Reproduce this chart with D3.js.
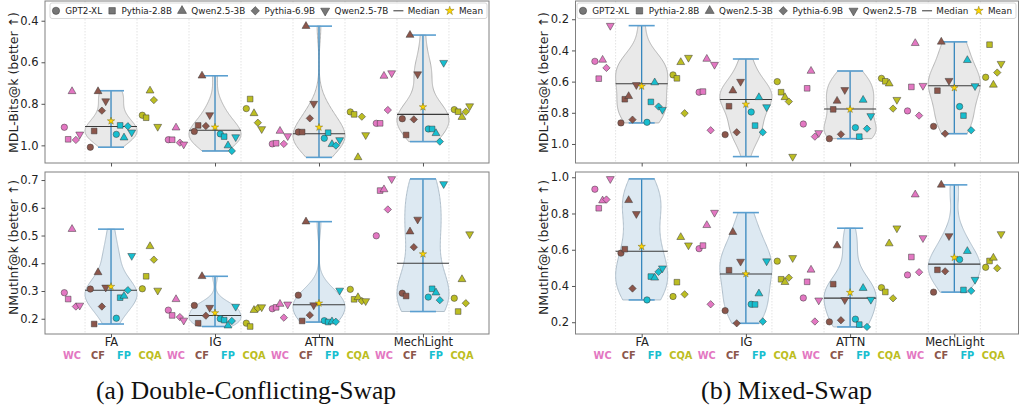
<!DOCTYPE html>
<html><head><meta charset="utf-8">
<script src="https://cdn.jsdelivr.net/npm/d3@7"></script>
<style>
body{margin:0;background:#fff}
svg{display:block}
text{font-family:"DejaVu Sans",sans-serif}
</style>
</head><body>
<svg id="c" width="1019" height="410"></svg>
<script>
// ---------- data ----------
const methods = ["FA", "IG", "ATTN", "MechLight"];
const datasets = ["WC", "CF", "FP", "CQA"];
const models = ["GPT2-XL", "Pythia-2.8B", "Qwen2.5-3B", "Pythia-6.9B", "Qwen2.5-7B"];
const captions = ["(a) Double-Conflicting-Swap", "(b) Mixed-Swap"];
const yLabels = ["MDL-Bits@k (better \u2191)", "NMutInf@k (better \u2191)"];
const mdlTicksDCS = [0.4, 0.6, 0.8, 1.0];
const nmiTicksDCS = [0.2, 0.3, 0.4, 0.5, 0.6, 0.7];
const mdlTicksMix = [0.2, 0.4, 0.6, 0.8, 1.0];
const nmiTicksMix = [0.2, 0.4, 0.6, 0.8, 1.0];

// values: [method][dataset][model]
const dcsMdl = [
  [[0.913,0.971,0.740,0.974,0.947],[1.009,0.931,0.740,0.833,0.787],[0.947,0.904,0.963,0.908,0.937],[0.855,0.867,0.737,0.782,0.910]],
  [[0.973,0.973,0.915,0.987,0.995],[0.933,0.904,0.665,0.907,0.854],[0.945,0.958,1.001,1.027,0.960],[0.823,0.777,0.846,0.891,0.921]],
  [[0.993,0.990,0.931,0.993,0.955],[0.936,0.936,0.426,0.870,0.799],[0.966,0.939,0.995,1.001,0.974],[0.839,0.851,1.058,0.862,0.950]],
  [[0.894,0.894,0.666,0.830,0.652],[0.872,0.950,0.469,0.875,0.657],[0.921,0.921,0.942,0.982,0.602],[0.828,0.838,0.864,0.838,0.811]]
];
const dcsNmi = [
  [[0.294,0.271,0.523,0.244,0.248],[0.307,0.181,0.367,0.244,0.313],[0.202,0.276,0.282,0.303,0.427],[0.308,0.353,0.461,0.413,0.302]],
  [[0.231,0.212,0.270,0.206,0.194],[0.248,0.184,0.353,0.211,0.240],[0.200,0.195,0.175,0.192,0.244],[0.184,0.172,0.231,0.238,0.242]],
  [[0.236,0.241,0.253,0.204,0.252],[0.285,0.192,0.550,0.213,0.249],[0.193,0.188,0.190,0.189,0.302],[0.306,0.270,0.277,0.264,0.264]],
  [[0.499,0.662,0.666,0.594,0.704],[0.292,0.282,0.514,0.458,0.558],[0.278,0.308,0.294,0.267,0.686],[0.274,0.226,0.342,0.256,0.505]]
];
const mixMdl = [
  [[0.470,0.581,0.461,0.512,0.241],[0.865,0.713,0.694,0.844,0.621],[0.861,0.730,0.606,0.760,0.780],[0.557,0.579,0.476,0.803,0.446]],
  [[0.668,0.664,0.455,0.912,0.491],[0.940,0.758,0.658,0.925,0.600],[0.795,0.882,0.701,0.925,0.763],[0.600,0.668,0.701,0.728,1.081]],
  [[0.872,0.643,0.532,0.953,0.929],[0.966,0.778,0.724,0.938,0.653],[0.895,0.953,0.718,0.902,0.820],[0.579,0.598,0.613,0.773,0.716]],
  [[0.788,0.634,0.354,0.818,0.626],[0.887,0.658,0.345,0.934,0.594],[0.760,0.818,0.463,0.912,0.628],[0.572,0.363,0.621,0.542,0.485]]
];
const mixNmi = [
  [[0.934,0.829,0.871,0.877,0.991],[0.581,0.603,0.873,0.386,0.798],[0.323,0.452,0.445,0.478,0.498],[0.342,0.421,0.669,0.354,0.625]],
  [[0.606,0.623,0.735,0.299,0.805],[0.264,0.487,0.697,0.194,0.535],[0.299,0.298,0.358,0.204,0.537],[0.537,0.437,0.421,0.446,0.555]],
  [[0.334,0.423,0.489,0.204,0.321],[0.202,0.410,0.623,0.211,0.323],[0.217,0.187,0.388,0.174,0.325],[0.391,0.367,0.634,0.332,0.719]],
  [[0.461,0.560,0.904,0.476,0.665],[0.366,0.489,0.958,0.481,0.676],[0.546,0.378,0.592,0.373,0.435],[0.503,0.538,0.555,0.498,0.687]]
];

// ---------- styles / layout ----------
const datasetColors = ["#e377c2", "#8c564b", "#17becf", "#bcbd22"];
const datasetOffsets = [-0.375, -0.125, 0.125, 0.375];
const modelOffsets = [-0.074, -0.037, 0, 0.037, 0.074];
const symbolDefs = [
  {type: d3.symbolCircle, size: 32, rot: 0},
  {type: d3.symbolSquare, size: 32, rot: 0},
  {type: d3.symbolTriangle, size: 27, rot: 0},
  {type: d3.symbolSquare, size: 27, rot: 45},
  {type: d3.symbolTriangle, size: 27, rot: 180}
];

const svg = d3.select("#c");

const panels = [
  {xr:[45,489], xd:[-0.635,3.635], top:{data:dcsMdl, yd:[0.305,1.085], ticks:mdlTicksDCS}, bot:{data:dcsNmi, yd:[0.145,0.729], ticks:nmiTicksDCS},
   ylabX:13.5, legX:50, legW:437, caption:captions[0], capX:246, capW:300},
  {xr:[575.5,1018.5], xd:[-0.635,3.616], top:{data:mixMdl, yd:[0.083,1.122], ticks:mdlTicksMix}, bot:{data:mixNmi, yd:[0.135,1.029], ticks:nmiTicksMix},
   ylabX:543, legX:577, legW:439, caption:captions[1], capX:786.5, capW:171}
];
const rows = [
  {key:"top", y0:1, y1:163, fill:"#e9e9e9", edge:"#b5b5b5", labelY:82.5, label:yLabels[0], inverted:true},
  {key:"bot", y0:172, y1:334, fill:"#dde9f2", edge:"#b0bfcb", labelY:247.5, label:yLabels[1], inverted:false}
];

function kde(vals, grid) {
  const n = vals.length;
  const sd = d3.deviation(vals);
  const bw = sd * Math.pow(n, -1/5);
  return grid.map(g => d3.sum(vals, v => Math.exp(-0.5 * ((g - v)/bw) ** 2)) / (n * bw * Math.sqrt(2*Math.PI)));
}

function symPath(i, scale) {
  return d3.symbol().type(symbolDefs[i].type).size(symbolDefs[i].size * (scale || 1))();
}

panels.forEach(p => {
  const x = d3.scaleLinear().domain(p.xd).range(p.xr);
  const pxPerUnit = x(1) - x(0);
  rows.forEach(r => {
    const cfg = p[r.key];
    const y = d3.scaleLinear().domain(cfg.yd).range(r.inverted ? [r.y0, r.y1] : [r.y1, r.y0]);
    const g = svg.append("g");

    // gridlines (dotted) at half-way positions
    const gridPos = d3.range(-0.25, 3.5, 0.5);
    g.selectAll("line.grid").data(gridPos).join("line")
      .attr("x1", d => x(d)).attr("x2", d => x(d))
      .attr("y1", r.y0).attr("y2", r.y1)
      .attr("stroke", "#dcdcdc").attr("stroke-width", 0.8).attr("stroke-dasharray", "1.5,1.5");

    // violins
    methods.forEach((m, mi) => {
      const vals = cfg.data[mi].flat();
      const lo = d3.min(vals), hi = d3.max(vals);
      const grid = d3.range(100).map(i => lo + (hi - lo) * i / 99);
      const dens = kde(vals, grid);
      const maxD = d3.max(dens);
      const hw = dens.map(d => d / maxD * 0.25 * pxPerUnit);
      const cx = x(mi);
      const area = d3.area()
        .x0((d, i) => cx - hw[i]).x1((d, i) => cx + hw[i])
        .y(d => y(d)).curve(d3.curveLinear);
      g.append("path").attr("d", area(grid))
        .attr("fill", r.fill).attr("stroke", r.edge).attr("stroke-width", 1);
    });

    // stems, caps, medians
    methods.forEach((m, mi) => {
      const vals = cfg.data[mi].flat();
      const lo = d3.min(vals), hi = d3.max(vals);
      const cx = x(mi);
      g.append("line").attr("x1", cx).attr("x2", cx).attr("y1", y(lo)).attr("y2", y(hi))
        .attr("stroke", "#2a7fba").attr("stroke-width", 1.2);
      [lo, hi].forEach(v => {
        g.append("line").attr("x1", x(mi - 0.125)).attr("x2", x(mi + 0.125))
          .attr("y1", y(v)).attr("y2", y(v))
          .attr("stroke", "#5a9fd0").attr("stroke-width", 1.6);
      });
      const med = d3.median(vals);
      g.append("line").attr("x1", x(mi - 0.25)).attr("x2", x(mi + 0.25))
        .attr("y1", y(med)).attr("y2", y(med))
        .attr("stroke", "#3a3a3a").attr("stroke-width", 1.1);
    });

    // points
    methods.forEach((m, mi) => {
      datasets.forEach((ds, di) => {
        models.forEach((md, k) => {
          const v = cfg.data[mi][di][k];
          const px = x(mi + datasetOffsets[di] + modelOffsets[k]);
          g.append("path").attr("d", symPath(k))
            .attr("transform", `translate(${px},${y(v)}) rotate(${symbolDefs[k].rot})`)
            .attr("fill", datasetColors[di]).attr("stroke", "#3a3a3a").attr("stroke-width", 0.5);
        });
      });
    });

    // mean stars
    methods.forEach((m, mi) => {
      const vals = cfg.data[mi].flat();
      const mean = d3.mean(vals);
      g.append("path").attr("d", d3.symbol().type(d3.symbolStar).size(17)())
        .attr("transform", `translate(${x(mi)},${y(mean)})`)
        .attr("fill", "#ffd700").attr("stroke", "#6b5a00").attr("stroke-width", 0.4);
    });

    // frame
    g.append("rect").attr("x", p.xr[0]).attr("y", r.y0)
      .attr("width", p.xr[1] - p.xr[0]).attr("height", r.y1 - r.y0)
      .attr("fill", "none").attr("stroke", "#808080").attr("stroke-width", 1);

    // y axis
    const ya = g.append("g").attr("transform", `translate(${p.xr[0]},0)`)
      .call(d3.axisLeft(y).tickValues(cfg.ticks).tickFormat(d3.format(".1f")).tickSize(3.5).tickPadding(3));
    ya.select(".domain").remove();
    ya.selectAll("text").attr("font-size", 11.5).attr("fill", "#222").attr("font-family", "DejaVu Sans");
    ya.selectAll("line").attr("stroke", "#555");

    // x axis ticks
    const xa = g.append("g").attr("transform", `translate(0,${r.y1})`)
      .call(d3.axisBottom(x).tickValues(d3.range(methods.length)).tickSize(3.5)
        .tickFormat(r.key === "bot" ? (i => methods[i]) : () => ""));
    xa.select(".domain").remove();
    xa.selectAll("line").attr("stroke", "#555");
    xa.selectAll("text").attr("font-size", 11.5).attr("fill", "#222")
      .attr("font-family", "DejaVu Sans").attr("y", 3.8);

    // y label
    g.append("text").attr("transform", `translate(${p.ylabX},${r.labelY}) rotate(-90)`)
      .attr("text-anchor", "middle").attr("dominant-baseline", "central")
      .attr("font-size", 12.5).attr("fill", "#222").text(r.label);

    if (r.key === "bot") {
      methods.forEach((m, mi) => {
        datasets.forEach((ds, di) => {
          g.append("text").attr("x", x(mi + datasetOffsets[di])).attr("y", 358.5)
            .attr("text-anchor", "middle").attr("font-size", 9.8).attr("font-weight", "bold")
            .attr("fill", datasetColors[di]).text(ds);
        });
      });
    }

    // legend (top row)
    if (r.key === "top") {
      const lg = g.append("g");
      lg.append("rect").attr("x", p.legX).attr("y", 3).attr("width", p.legW).attr("height", 15.5)
        .attr("rx", 2).attr("fill", "#fff").attr("fill-opacity", 0.85).attr("stroke", "#cfcfcf").attr("stroke-width", 0.8);
      const ly = 10.8;
      const items = models.map((md, k) => ({kind: "marker", k, label: md}))
        .concat([{kind: "median", label: "Median"}, {kind: "mean", label: "Mean"}]);
      const texts = items.map(it => lg.append("text").attr("font-size", 8.8).attr("fill", "#222")
        .attr("y", ly).attr("dy", "0.35em").text(it.label));
      const widths = texts.map(t => t.node().getComputedTextLength());
      const handle = 9.3;
      const avail = p.legW - 10;
      const gap = Math.max(6, (avail - d3.sum(widths) - items.length * handle) / (items.length - 1));
      let cur = p.legX + 6;
      items.forEach((it, idx) => {
        if (it.kind === "marker") {
          lg.append("path").attr("d", symPath(it.k, 1.3))
            .attr("transform", `translate(${cur},${ly}) rotate(${symbolDefs[it.k].rot})`)
            .attr("fill", "#777").attr("stroke", "#333").attr("stroke-width", 0.5);
        } else if (it.kind === "median") {
          lg.append("line").attr("x1", cur - 5).attr("x2", cur + 5).attr("y1", ly).attr("y2", ly)
            .attr("stroke", "#333").attr("stroke-width", 1);
        } else {
          lg.append("path").attr("d", d3.symbol().type(d3.symbolStar).size(24)())
            .attr("transform", `translate(${cur},${ly})`)
            .attr("fill", "#ffd700").attr("stroke", "#6b5a00").attr("stroke-width", 0.4);
        }
        const textX = cur + handle;
        texts[idx].attr("x", textX);
        cur = textX + widths[idx] + gap;
      });
    }
  });

  // caption
  svg.append("text").attr("x", p.capX).attr("y", 399).attr("text-anchor", "middle")
    .style("font-family", "'Liberation Serif', serif")
    .attr("font-size", 25).attr("fill", "#111")
    .attr("textLength", p.capW).attr("lengthAdjust", "spacingAndGlyphs")
    .text(p.caption);
});
</script>
</body></html>
